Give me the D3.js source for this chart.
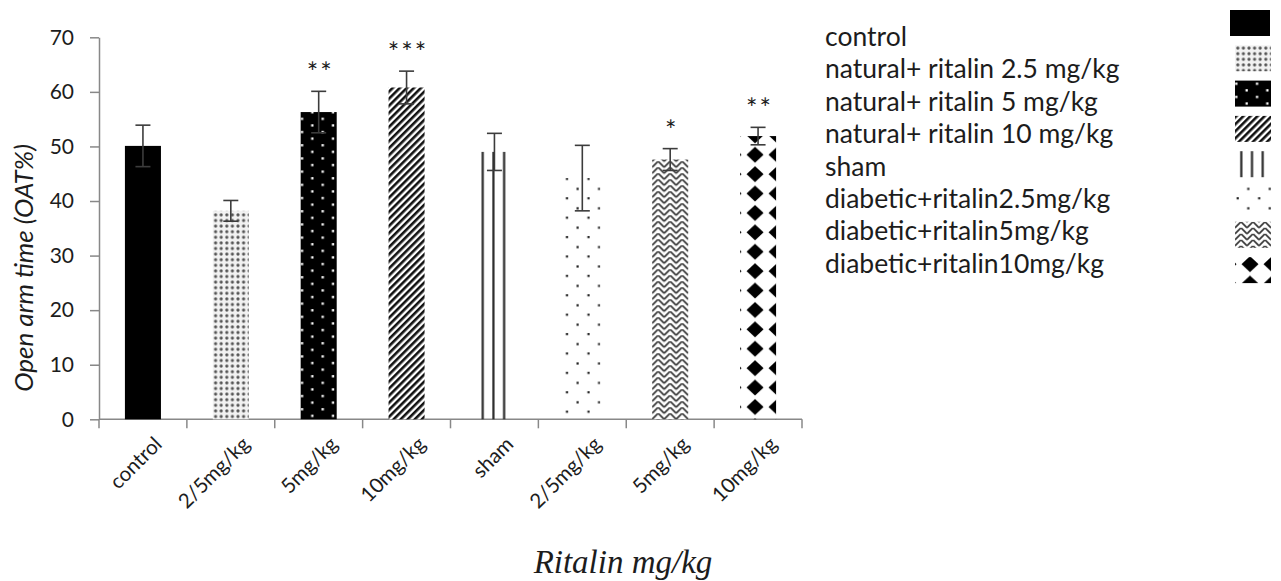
<!DOCTYPE html>
<html>
<head>
<meta charset="utf-8">
<script src="https://cdn.jsdelivr.net/npm/d3@7"></script>
<style>
  body { margin: 0; background: #fff; }
  text { font-family: Lato, "Open Sans", sans-serif; fill: #1c1c1c; }
</style>
</head>
<body>
<div id="chart"></div>
<script>
// data
var groups = ["control", "2/5mg/kg", "5mg/kg", "10mg/kg", "sham", "2/5mg/kg", "5mg/kg", "10mg/kg"]
var means = [50.1, 38.2, 56.3, 60.8, 49.0, 44.2, 47.6, 51.9]
var errors = [3.8, 1.9, 3.8, 3.0, 3.4, 6.0, 2.0, 1.6]
var stars = ["", "", "**", "***", "", "", "*", "**"]
var legendLabels = ["control", "natural+ ritalin 2.5 mg/kg", "natural+ ritalin 5 mg/kg", "natural+ ritalin 10 mg/kg",
  "sham", "diabetic+ritalin2.5mg/kg", "diabetic+ritalin5mg/kg", "diabetic+ritalin10mg/kg"]
var fills = ["solid", "finedots", "whitedots", "diag", "vlines", "sparsedots", "weave", "diamonds"]
var yTicks = [0, 10, 20, 30, 40, 50, 60, 70]

var width = 1281
var height = 581
var plotLeft = 99, plotRight = 802, plotTop = 37.3, plotBottom = 419.3

var svg = d3.select("#chart").append("svg")
  .attr("width", width)
  .attr("height", height)

var defs = svg.append("defs")

var x = d3.scaleBand()
  .domain(d3.range(groups.length))
  .range([plotLeft, plotRight])
  .paddingInner(0.59)
  .paddingOuter(0.295)

var y = d3.scaleLinear()
  .domain([0, 70])
  .range([plotBottom, plotTop])

var pid = 0
// build a pattern anchored at (x0, y0) so the texture lines up like the picture
function makeFill(kind, x0, y0) {
  if (kind == "solid") return "#000"
  var id = "p" + (pid++)
  var p = defs.append("pattern").attr("id", id)
    .attr("patternUnits", "userSpaceOnUse")
    .attr("x", x0).attr("y", y0)

  if (kind == "finedots") {
    p.attr("width", 5.6).attr("height", 5.6)
    p.append("rect").attr("width", 5.6).attr("height", 5.6).attr("fill", "#f2f2f2")
    p.append("circle").attr("cx", 2.8).attr("cy", 2.8).attr("r", 1.6).attr("fill", "#555")
  } else if (kind == "whitedots") {
    p.attr("width", 20.7).attr("height", 13.2)
    p.append("rect").attr("width", 20.7).attr("height", 13.2).attr("fill", "#000")
    p.append("rect").attr("x", 0.2).attr("y", 2).attr("width", 2.3).attr("height", 2.3).attr("fill", "#fff")
    p.append("rect").attr("x", 10.5).attr("y", 8.6).attr("width", 2.3).attr("height", 2.3).attr("fill", "#fff")
  } else if (kind == "diag") {
    p.attr("width", 5).attr("height", 5).attr("patternTransform", "rotate(45)")
    p.append("rect").attr("width", 5).attr("height", 5).attr("fill", "#fff")
    p.append("rect").attr("width", 2.6).attr("height", 5).attr("fill", "#111")
  } else if (kind == "vlines") {
    p.attr("width", 10.7).attr("height", 10)
    p.append("rect").attr("x", 5.2).attr("width", 2.2).attr("height", 10).attr("fill", "#2a2a2a")
  } else if (kind == "sparsedots") {
    p.attr("width", 21.5).attr("height", 19.4)
    p.append("rect").attr("x", 1.6).attr("y", 10.7).attr("width", 2.2).attr("height", 2.2).attr("fill", "#222")
    p.append("rect").attr("x", 12.2).attr("y", 1.3).attr("width", 2.2).attr("height", 2.2).attr("fill", "#222")
  } else if (kind == "weave") {
    // stacked chevrons, close to the herringbone weave of the original
    p.attr("width", 12).attr("height", 6)
    p.append("rect").attr("width", 12).attr("height", 6).attr("fill", "#fff")
    p.append("path")
      .attr("d", "M0,6 L6,0 L12,6 M-1,1 L0,0 M12,0 L13,1")
      .attr("stroke", "#333").attr("stroke-width", 1.7).attr("fill", "none")
  } else if (kind == "diamonds") {
    p.attr("width", 22).attr("height", 19.4)
    var cxs = [15, -7], cys = [7.1, 26.5]
    cxs.forEach(function (cx) {
      cys.forEach(function (cy) {
        p.append("path")
          .attr("d", "M" + (cx - 8.5) + "," + cy + " L" + cx + "," + (cy - 8) + " L" + (cx + 8.5) + "," + cy + " L" + cx + "," + (cy + 8) + "Z")
          .attr("fill", "#000")
      })
    })
  }
  return "url(#" + id + ")"
}

// axes
var yAxis = svg.append("g")
  .attr("transform", "translate(" + plotLeft + ",0)")
  .call(d3.axisLeft(y).tickValues(yTicks).tickSize(9).tickSizeOuter(0).tickPadding(16))
yAxis.select(".domain").attr("stroke", "#888").attr("stroke-width", 1.5)
yAxis.selectAll(".tick line").attr("stroke", "#888").attr("stroke-width", 1.5)
yAxis.selectAll(".tick text").style("font-size", "21px").attr("fill", "#1c1c1c")

svg.append("line")
  .attr("x1", plotLeft).attr("x2", plotRight)
  .attr("y1", plotBottom).attr("y2", plotBottom)
  .attr("stroke", "#888").attr("stroke-width", 1.5)

svg.selectAll(".xtick")
  .data(d3.range(groups.length + 1))
  .enter()
  .append("line")
  .attr("x1", function (i) { return plotLeft + i * x.step() })
  .attr("x2", function (i) { return plotLeft + i * x.step() })
  .attr("y1", plotBottom).attr("y2", plotBottom + 9)
  .attr("stroke", "#888").attr("stroke-width", 1.5)

svg.selectAll(".xlabel")
  .data(groups)
  .enter()
  .append("text")
  .attr("transform", function (d, i) {
    return "translate(" + (x(i) + x.bandwidth() / 2 + 10) + "," + (plotBottom + 16) + ") rotate(-45)"
  })
  .attr("text-anchor", "end")
  .attr("dy", "0.7em")
  .style("font-size", "20.5px")
  .text(function (d) { return d })

// bars
svg.append("g")
  .selectAll("rect")
  .data(means)
  .enter()
  .append("rect")
  .attr("x", function (d, i) { return x(i) })
  .attr("y", function (d) { return y(d) })
  .attr("width", x.bandwidth())
  .attr("height", function (d) { return y(0) - y(d) })
  .attr("fill", function (d, i) { return makeFill(fills[i], x(i), y(0)) })

// error bars
var eb = svg.append("g")
  .selectAll("g")
  .data(means)
  .enter()
  .append("g")
  .attr("stroke", "#3c3c3c")
  .attr("stroke-width", 1.6)

eb.append("line")
  .attr("x1", function (d, i) { return x(i) + x.bandwidth() / 2 })
  .attr("x2", function (d, i) { return x(i) + x.bandwidth() / 2 })
  .attr("y1", function (d, i) { return y(d - errors[i]) })
  .attr("y2", function (d, i) { return y(d + errors[i]) })
eb.append("line")
  .attr("x1", function (d, i) { return x(i) + x.bandwidth() / 2 - 7.5 })
  .attr("x2", function (d, i) { return x(i) + x.bandwidth() / 2 + 7.5 })
  .attr("y1", function (d, i) { return y(d + errors[i]) })
  .attr("y2", function (d, i) { return y(d + errors[i]) })
eb.append("line")
  .attr("x1", function (d, i) { return x(i) + x.bandwidth() / 2 - 7.5 })
  .attr("x2", function (d, i) { return x(i) + x.bandwidth() / 2 + 7.5 })
  .attr("y1", function (d, i) { return y(d - errors[i]) })
  .attr("y2", function (d, i) { return y(d - errors[i]) })

// significance stars
svg.selectAll(".star")
  .data(stars)
  .enter()
  .append("text")
  .attr("x", function (d, i) { return x(i) + x.bandwidth() / 2 + 1.5 })
  .attr("y", function (d, i) { return y(means[i] + errors[i]) - 9 })
  .attr("text-anchor", "middle")
  .style("font-size", "27px")
  .style("letter-spacing", "2px")
  .attr("fill", "#2a2f3a")
  .text(function (d) { return d })

// axis titles
svg.append("text")
  .attr("transform", "translate(33,268) rotate(-90)")
  .attr("text-anchor", "middle")
  .style("font-size", "26px")
  .style("font-style", "italic")
  .text("Open arm time (OAT%)")

svg.append("text")
  .attr("x", 623).attr("y", 573)
  .attr("text-anchor", "middle")
  .style("font-family", "'Liberation Serif', 'Times New Roman', serif")
  .style("font-style", "italic")
  .style("font-size", "33px")
  .text("Ritalin mg/kg")

// legend: labels in one column, swatches in another
svg.selectAll(".legtext")
  .data(legendLabels)
  .enter()
  .append("text")
  .attr("x", 825)
  .attr("y", function (d, i) { return 46 + i * 32.4 })
  .style("font-size", "26.5px")
  .text(function (d) { return d })

svg.selectAll(".legswatch")
  .data(fills)
  .enter()
  .append("rect")
  .attr("x", function (d, i) { return i == 0 ? 1230 : 1235 })
  .attr("y", function (d, i) { return 10 + i * 35.3 })
  .attr("width", function (d, i) { return i == 0 ? 40 : 36 })
  .attr("height", 26)
  .attr("fill", function (d, i) { return makeFill(d, 1235, 10 + i * 35.3) })
</script>
</body>
</html>
